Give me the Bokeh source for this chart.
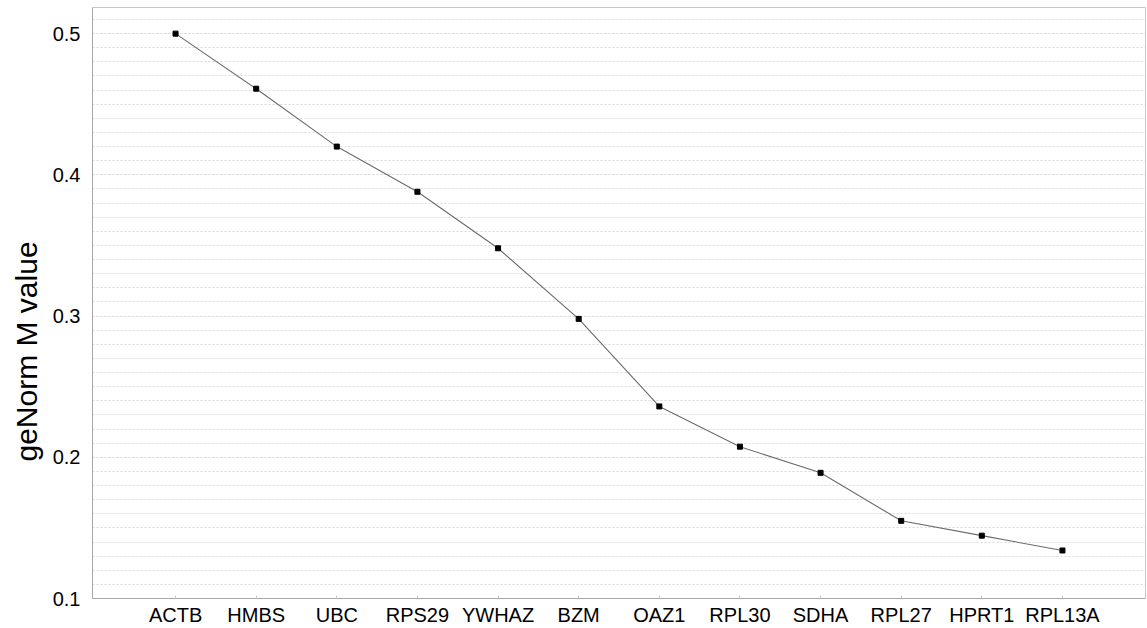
from bokeh.plotting import figure
from bokeh.models import FactorRange, Range1d, SingleIntervalTicker, ColumnDataSource, Title
from bokeh.embed import file_html
from bokeh.resources import INLINE

# Reference genes ranked by geNorm stability (M value)
genes = ["ACTB", "HMBS", "UBC", "RPS29", "YWHAZ", "BZM",
         "OAZ1", "RPL30", "SDHA", "RPL27", "HPRT1", "RPL13A"]
m_values = [0.500, 0.461, 0.420, 0.388, 0.348, 0.298,
            0.236, 0.2075, 0.189, 0.155, 0.1445, 0.134]
y_title = "geNorm M value"

src = ColumnDataSource(data=dict(gene=genes, m=m_values))

FONT = "Liberation Sans"

p = figure(
    width=1147, height=628,
    x_range=FactorRange(*genes, range_padding=0.53, range_padding_units="absolute"),
    y_range=Range1d(0.1, 0.5185),
    output_backend="svg", toolbar_location=None,
    min_border_left=92, min_border_right=2, min_border_top=7, min_border_bottom=30,
    background_fill_color="white", border_fill_color="white",
)

p.line("gene", "m", source=src, line_color="#6b6b6b", line_width=1.1)
p.scatter("gene", "m", source=src, marker="square", size=5,
          fill_color="black", line_color="black")

# frame
p.outline_line_color = "#c8c8c8"
p.outline_line_width = 1

# grid: dotted lines every 0.01
p.xgrid.grid_line_color = None
p.yaxis.ticker = SingleIntervalTicker(interval=0.1, num_minor_ticks=10)
p.ygrid.grid_line_color = "#d9d9d9"
p.ygrid.grid_line_dash = "2 2"
p.ygrid.grid_line_width = 1
p.ygrid.minor_grid_line_color = "#d9d9d9"
p.ygrid.minor_grid_line_dash = "2 2"
p.ygrid.minor_grid_line_width = 1

# y axis
p.yaxis.major_label_text_font = FONT
p.yaxis.major_label_text_font_size = "20px"
p.yaxis.major_label_text_color = "black"
p.yaxis.major_label_standoff = 6
p.yaxis.axis_line_color = "#a8a8a8"
p.yaxis.major_tick_line_color = None
p.yaxis.minor_tick_line_color = None

# y axis title in its own side panel, starting a fixed distance above the frame bottom
p.add_layout(Title(
    text=y_title, align="left", offset=137,
    text_font=FONT, text_font_size="30px", text_font_style="normal",
    text_color="black", standoff=14,
), "left")

# x axis
p.xaxis.major_label_text_font = FONT
p.xaxis.major_label_text_font_size = "20px"
p.xaxis.major_label_text_color = "black"
p.xaxis.major_label_standoff = 5
p.xaxis.axis_line_color = "#a8a8a8"
p.xaxis.major_tick_line_color = "#c8c8c8"
p.xaxis.major_tick_in = 3
p.xaxis.major_tick_out = 0

open("out.html", "w").write(file_html(p, INLINE))
